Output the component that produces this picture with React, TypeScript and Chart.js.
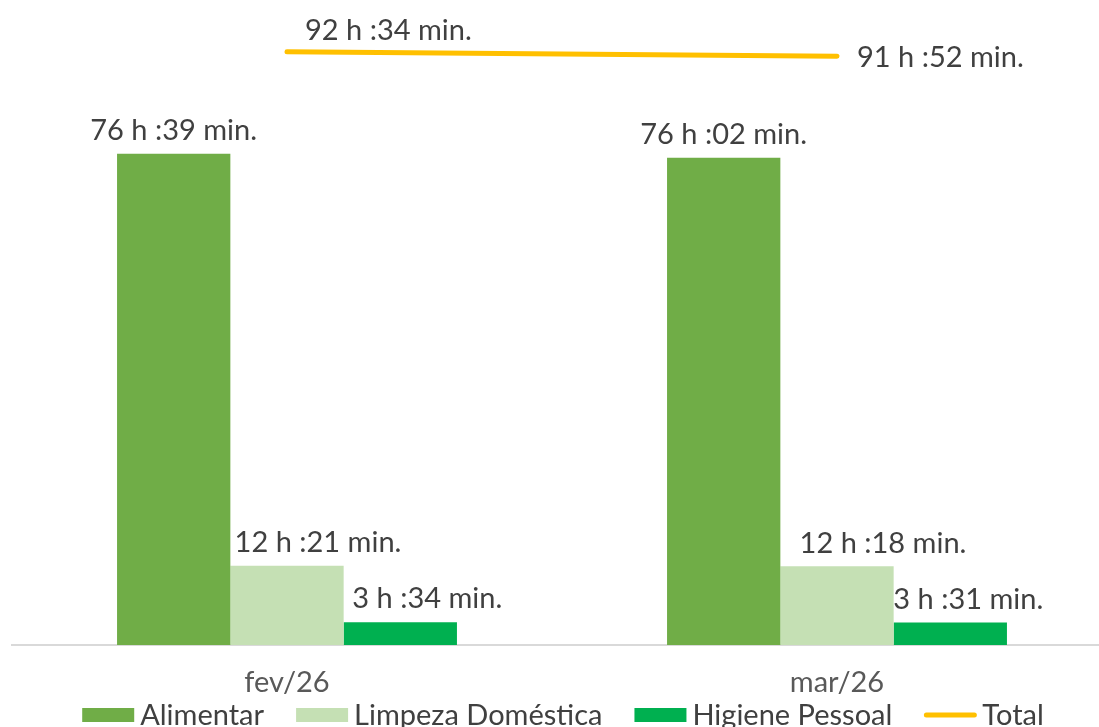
import React, { useEffect, useRef } from "react";
import { Chart, registerables } from "chart.js";

Chart.register(...registerables);

const categories = ["fev/26", "mar/26"];
// values in minutes (h * 60 + min)
const alimentarMin = [4599, 4562];
const limpezaMin = [741, 738];
const higieneMin = [214, 211];
const totalMin = [5554, 5512];
const yMax = 6000;

const seriesNames = ["Alimentar", "Limpeza Doméstica", "Higiene Pessoal", "Total"];
const colors = ["#70AD47", "#C5E0B4", "#00B050", "#FFC000"];

const FONT = "Lato, 'Open Sans', sans-serif";
const TEXT_COLOR = "#404040";

// label nudges (px) per bar dataset / point, to mimic the reference placement
const barLabelDx = [
  [0, 0],
  [31, 46],
  [27, 18],
];

function fmt(m: number) {
  const h = Math.floor(m / 60);
  const mm = m % 60;
  return `${h} h :${String(mm).padStart(2, "0")} min.`;
}

const labelsPlugin = {
  id: "valueLabels",
  afterDatasetsDraw(chart: any) {
    const ctx = chart.ctx;
    ctx.save();
    ctx.font = `29px ${FONT}`;
    ctx.fillStyle = TEXT_COLOR;
    chart.data.datasets.forEach((ds: any, di: number) => {
      const meta = chart.getDatasetMeta(di);
      meta.data.forEach((el: any, i: number) => {
        const txt = fmt(ds.data[i]);
        ctx.textBaseline = "middle";
        if (ds.type === "line") {
          ctx.textAlign = "left";
          if (i === 0) {
            ctx.fillText(txt, el.x + 18, el.y - 21);
          } else {
            ctx.fillText(txt, el.x + 20, el.y + 2);
          }
        } else {
          ctx.textAlign = "center";
          const dx = (barLabelDx[di] && barLabelDx[di][i]) || 0;
          ctx.fillText(txt, el.x + dx, el.y - 23);
        }
      });
    });
    ctx.restore();
  },
};

const legendPlugin = {
  id: "customLegend",
  afterDraw(chart: any) {
    const ctx = chart.ctx;
    ctx.save();
    ctx.font = `29px ${FONT}`;
    ctx.textBaseline = "middle";
    ctx.textAlign = "left";
    const y = 715;
    const boxW = 52;
    const gap = 6;
    const itemGap = 32;
    const widths = seriesNames.map((n) => boxW + gap + ctx.measureText(n).width);
    const total = widths.reduce((a, b) => a + b, 0) + itemGap * (seriesNames.length - 1);
    let x = 563 - total / 2;
    seriesNames.forEach((n, i) => {
      if (i === 3) {
        ctx.strokeStyle = colors[i];
        ctx.lineWidth = 5;
        ctx.lineCap = "round";
        ctx.beginPath();
        ctx.moveTo(x + 2, y);
        ctx.lineTo(x + boxW - 2, y);
        ctx.stroke();
      } else {
        ctx.fillStyle = colors[i];
        ctx.fillRect(x, y - 7, boxW, 14);
      }
      ctx.fillStyle = TEXT_COLOR;
      ctx.fillText(n, x + boxW + gap, y + 1);
      x += widths[i] + itemGap;
    });
    ctx.restore();
  },
};

export default function App() {
  const ref = useRef<HTMLCanvasElement | null>(null);
  useEffect(() => {
    if (!ref.current) return;
    const chart = new Chart(ref.current, {
      type: "bar",
      data: {
        labels: categories,
        datasets: [
          { label: seriesNames[0], data: alimentarMin, backgroundColor: colors[0], order: 1 },
          { label: seriesNames[1], data: limpezaMin, backgroundColor: colors[1], order: 1 },
          { label: seriesNames[2], data: higieneMin, backgroundColor: colors[2], order: 1 },
          { type: "line", label: seriesNames[3], data: totalMin, borderColor: colors[3], backgroundColor: colors[3], borderWidth: 5, pointRadius: 0, tension: 0, order: 0, borderCapStyle: "round" } as any,
        ],
      },
      options: {
        responsive: false,
        animation: false,
        devicePixelRatio: 1,
        layout: { padding: { left: 12, right: 14, top: 4, bottom: 26 } },
        datasets: { bar: { categoryPercentage: 0.618, barPercentage: 1 } },
        plugins: { legend: { display: false }, tooltip: { enabled: false } },
        scales: {
          x: {
            grid: { display: false, drawTicks: false },
            border: { display: true, color: "#D9D9D9", width: 2 },
            ticks: { color: "#595959", font: { family: FONT, size: 29 }, padding: 20, maxRotation: 0 },
            afterFit(scale: any) {
              scale.height = 56;
            },
          },
          y: { display: false, min: 0, max: yMax },
        },
      },
      plugins: [labelsPlugin, legendPlugin],
    });
    return () => chart.destroy();
  }, []);
  return (
    <div style={{ position: "fixed", left: 0, top: 0, width: 1099, height: 727, overflow: "hidden", background: "#fff" }}>
      <canvas ref={ref} width={1126} height={727} style={{ display: "block" }} />
    </div>
  );
}
